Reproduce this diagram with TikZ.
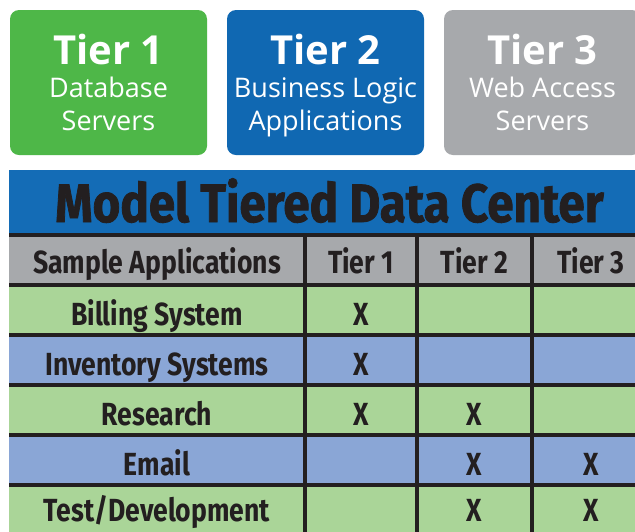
\documentclass[tikz,border=0pt]{standalone}
\usepackage{fontspec}
\setmainfont{Open Sans}
\newfontfamily\condfont[FakeStretch=0.83]{Fira Sans}
\newfontfamily\titlefont[FakeStretch=0.88,BoldFeatures={FakeBold=1.4}]{Fira Sans}
\usetikzlibrary{positioning}
\definecolor{tiergreen}{RGB}{78,183,72}
\definecolor{tierblue}{RGB}{16,104,178}
\definecolor{tiergray}{RGB}{167,169,172}
\definecolor{titleblue}{RGB}{20,108,182}
\definecolor{hdrgray}{RGB}{167,169,172}
\definecolor{rowgreen}{RGB}{170,213,152}
\definecolor{rowblue}{RGB}{138,166,214}
\definecolor{inkblack}{RGB}{35,31,32}
\tikzstyle{tierbox}=[rounded corners=9pt, minimum width=197pt, minimum height=145pt, inner sep=0pt, outer sep=0pt, text=white, align=center, text depth=0pt, font=\fontsize{27}{33}\selectfont]
\tikzstyle{titlebar}=[fill=titleblue, minimum width=641pt, minimum height=65pt, inner sep=0pt, outer sep=0pt, text=inkblack, text height=39pt, text depth=0pt, font=\titlefont\bfseries\fontsize{54}{54}\selectfont]
\tikzstyle{cell}=[minimum height=50pt, inner sep=0pt, outer sep=0pt, text=inkblack, text height=30pt, text depth=0pt, font=\condfont\bfseries\fontsize{32}{32}\selectfont]
\tikzstyle{hdr}=[cell, fill=hdrgray, text height=27pt]
\tikzstyle{grn}=[cell, fill=rowgreen]
\tikzstyle{blu}=[cell, fill=rowblue]
\tikzstyle{last}=[grn, text height=22pt]
\tikzstyle{grid}=[draw=inkblack, line width=4pt]
\newcommand{\tierhead}[1]{{\bfseries\fontsize{40}{33}\selectfont #1}}

\begin{document}
\begin{tikzpicture}[x=1pt,y=-1pt]
                    \useasboundingbox (0,0) rectangle (635,531);
                    \clip (0,0) rectangle (635,531);
                    \fill[white] (0,0) rectangle (635,531);

                    \node [tierbox, fill=tiergreen] (t1) at (108.5,82.5) {\tierhead{Tier 1}\\Database\\Servers};
                    \node [tierbox, fill=tierblue] (t2) [right=20pt of t1] {\tierhead{Tier 2}\\Business Logic\\Applications};
                    \node [tierbox, fill=tiergray] (t3) [right=20pt of t2] {\tierhead{Tier 3}\\Web Access\\Servers};

                    \node [titlebar] (ttl) at (329.5,202.5) {Model Tiered Data Center};

                    \node [hdr, minimum width=296pt] (h0) at (157,260) {Sample Applications};
                    \node [hdr, minimum width=112pt] (h1) [right=0pt of h0] {Tier 1};
                    \node [hdr, minimum width=115pt] (h2) [right=0pt of h1] {Tier 2};
                    \node [hdr, minimum width=118pt] (h3) [right=0pt of h2] {Tier 3};

                    \node [grn, minimum width=296pt] (b0) [below=0pt of h0] {Billing System};
                    \node [grn, minimum width=112pt] (b1) [right=0pt of b0] {X};
                    \node [grn, minimum width=115pt] (b2) [right=0pt of b1] {};
                    \node [grn, minimum width=118pt] (b3) [right=0pt of b2] {};

                    \node [blu, minimum width=296pt] (i0) [below=0pt of b0] {Inventory Systems};
                    \node [blu, minimum width=112pt] (i1) [right=0pt of i0] {X};
                    \node [blu, minimum width=115pt] (i2) [right=0pt of i1] {};
                    \node [blu, minimum width=118pt] (i3) [right=0pt of i2] {};

                    \node [grn, minimum width=296pt] (r0) [below=0pt of i0] {Research};
                    \node [grn, minimum width=112pt] (r1) [right=0pt of r0] {X};
                    \node [grn, minimum width=115pt] (r2) [right=0pt of r1] {X};
                    \node [grn, minimum width=118pt] (r3) [right=0pt of r2] {};

                    \node [blu, minimum width=296pt] (e0) [below=0pt of r0] {Email};
                    \node [blu, minimum width=112pt] (e1) [right=0pt of e0] {};
                    \node [blu, minimum width=115pt] (e2) [right=0pt of e1] {X};
                    \node [blu, minimum width=118pt] (e3) [right=0pt of e2] {X};

                    \node [last, minimum width=296pt] (d0) [below=0pt of e0] {Test/Development};
                    \node [last, minimum width=112pt] (d1) [right=0pt of d0] {};
                    \node [last, minimum width=115pt] (d2) [right=0pt of d1] {X};
                    \node [last, minimum width=118pt] (d3) [right=0pt of d2] {X};

                    \draw [grid] (h0.north west) -- (h3.north east) (b0.north west) -- (b3.north east)
                        (i0.north west) -- (i3.north east) (r0.north west) -- (r3.north east)
                        (e0.north west) -- (e3.north east) (d0.north west) -- (d3.north east);
                    \draw [grid] (h1.north west) -- (d1.south west) (h2.north west) -- (d2.south west)
                        (h3.north west) -- (d3.south west);
                \end{tikzpicture}
\end{document}
